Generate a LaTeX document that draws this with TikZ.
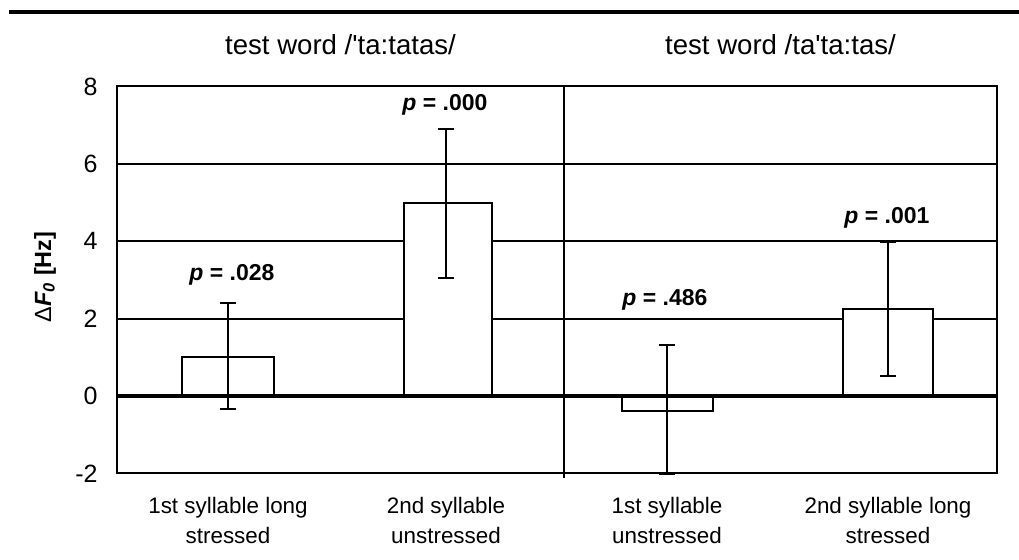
\documentclass[tikz,border=0pt]{standalone}
\usepackage{fontspec}
\setmainfont{Liberation Sans}
\usepackage{tikz}
\usetikzlibrary{arrows.meta}
\usetikzlibrary{positioning}
\tikzstyle{gridline} = [line width = 1pt]
\tikzstyle{bar} = [draw, fill = white, line width = 1pt]
\tikzstyle{errbar} = [line width = 1pt, {Bar[width = 8pt]}-{Bar[width = 8pt]}]
\tikzstyle{plabel} = [font = \fontsize{11.5}{13}\selectfont\bfseries]
\tikzstyle{ticklabel} = [anchor = east, inner sep = 0pt, font = \fontsize{12.5}{14}\selectfont]
\tikzstyle{catlabel} = [align = center, font = \fontsize{11.2}{15}\selectfont]
\tikzstyle{wordtitle} = [font = \fontsize{13.8}{16}\selectfont]

\begin{document}
\begin{tikzpicture}[x = 0.5pt, y = -0.5pt]
	
		\useasboundingbox (0,0) rectangle (1019,559);
		
		% Rule at the top
		\draw[line width = 2.4pt] (9,12) -- (1019,12);
		
		% Titles
		\node[wordtitle] (title1) at (340.5,45) {test word /\textquotesingle ta:tatas/};
		\node[wordtitle] (title2) at (780.5,45) {test word /ta\textquotesingle ta:tas/};
		
		% Axis label
		\node[rotate = 90, font = \fontsize{11.7}{13}\selectfont] (ylab) at (45,277)
		{Δ\textbf{\textit{F\textsubscript{0}} [Hz]}};
		
		\begin{scope}[shift = {(0,396)}, y = 19.35pt]
		
		% Tick labels
		\foreach \v in {-2,0,2,4,6,8}
			\node[ticklabel] (tick\v) at (98,\v) {\v};
		
		% Grid
		\foreach \v in {2,4,6}
			\draw[gridline] (117,\v) -- (997,\v);
		
		% Bars
		\draw[bar] (182,0) rectangle (274,1.0);
		\draw[bar] (404,0) rectangle (492,4.98);
		\draw[bar] (622,0) rectangle (713,-0.39);
		\draw[bar] (843,0) rectangle (933,2.25);
		
		% Zero line
		\draw[line width = 1.6pt] (117,0) -- (997,0);
		
		% Frame and divider
		\draw[line width = 1pt] (117,-2) rectangle (997,8);
		\draw[line width = 1pt] (564,8) -- (564,-2.13);
		
		% Error bars
		\coordinate (e1t) at (228,2.43);  \coordinate (e1b) at (228,-0.36);
		\coordinate (e2t) at (446,6.93);  \coordinate (e2b) at (446,3.02);
		\coordinate (e3t) at (667,1.34);  \coordinate (e3b) at (667,-2.05);
		\coordinate (e4t) at (888,4.0);   \coordinate (e4b) at (888,0.49);
		\draw[errbar] (e1t) -- (e1b);
		\draw[errbar] (e2t) -- (e2b);
		\draw[errbar] (e3t) -- (e3b);
		\draw[errbar] (e4t) -- (e4b);
		
		% p values
		\node[plabel] (p1) at (232,3.13) {\textit{p} = .028};
		\node[plabel] (p2) at (445,7.52) {\textit{p} = .000};
		\node[plabel] (p3) at (665,2.48) {\textit{p} = .486};
		\node[plabel] (p4) at (887,4.6) {\textit{p} = .001};
		
		\end{scope}
		
		% Categories
		\node[catlabel] (cat1) at (228,520) {1st syllable long\\stressed};
		\node[catlabel] (cat2) at (446,520) {2nd syllable\\unstressed};
		\node[catlabel] (cat3) at (667,520) {1st syllable\\unstressed};
		\node[catlabel] (cat4) at (888,520) {2nd syllable long\\stressed};
		
	\end{tikzpicture}
\end{document}
